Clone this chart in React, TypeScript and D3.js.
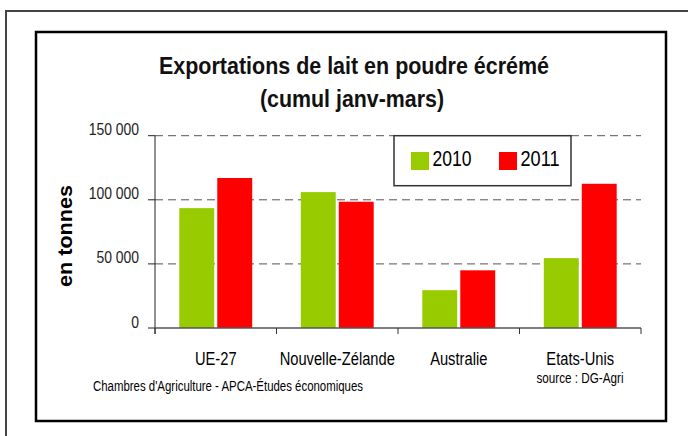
import { useEffect, useRef } from 'react';
import * as d3 from 'd3';

const categories = ['UE-27', 'Nouvelle-Zélande', 'Australie', 'Etats-Unis'];
const years = ['2010', '2011'];
const values2010 = [93500, 106000, 29500, 54500];
const values2011 = [117000, 98500, 45000, 112500];
const yTicks = [0, 50000, 100000, 150000];
const colors = ['#99CC00', '#FF0000'];

const W = 688;
const H = 436;
const FONT = '"Liberation Sans", Arial, Helvetica, sans-serif';

export default function App() {
  const svgRef = useRef<SVGSVGElement>(null);

  useEffect(() => {
    const svg = d3.select(svgRef.current);
    svg.selectAll('*').remove();

    // squeeze text horizontally (the original font is a bit condensed)
    const squeeze = (sel: any, factor: number) => {
      sel.each(function (this: SVGTextElement) {
        const len = this.getComputedTextLength();
        d3.select(this).attr('textLength', len * factor).attr('lengthAdjust', 'spacingAndGlyphs');
      });
    };

    svg.append('rect').attr('width', W).attr('height', H).attr('fill', '#fff');

    // outer frame (runs off the right and bottom edges)
    svg.append('rect')
      .attr('x', 6).attr('y', 11).attr('width', W + 20).attr('height', H + 20)
      .attr('fill', 'none').attr('stroke', '#444').attr('stroke-width', 2);

    // chart area frame
    svg.append('rect')
      .attr('x', 36).attr('y', 32).attr('width', 630).attr('height', 389)
      .attr('fill', '#fff').attr('stroke', '#000').attr('stroke-width', 2.5);

    // title
    const title = svg.append('g')
      .attr('font-family', FONT).attr('font-weight', 'bold').attr('font-size', 23.5)
      .attr('text-anchor', 'middle').attr('fill', '#111');
    title.append('text').attr('x', 354).attr('y', 73.5)
      .attr('textLength', 390).attr('lengthAdjust', 'spacingAndGlyphs')
      .text('Exportations de lait en poudre écrémé');
    title.append('text').attr('x', 352).attr('y', 107)
      .attr('textLength', 184).attr('lengthAdjust', 'spacingAndGlyphs')
      .text('(cumul janv-mars)');

    // scales
    const x0 = d3.scaleBand<string>()
      .domain(categories)
      .range([155, 641])
      .paddingInner(0.4)
      .paddingOuter(0.2);
    const x1 = d3.scaleBand<string>()
      .domain(years)
      .range([0, x0.bandwidth()])
      .paddingInner(0.08);
    const y = d3.scaleLinear().domain([0, 150000]).range([328, 135.7]);

    // gridlines
    svg.append('g')
      .selectAll('line')
      .data(yTicks.filter((d) => d > 0))
      .join('line')
      .attr('x1', 155).attr('x2', 641)
      .attr('y1', (d) => y(d)).attr('y2', (d) => y(d))
      .attr('stroke', '#555').attr('stroke-width', 1)
      .attr('stroke-dasharray', '8,5');

    // bars
    const series = [values2010, values2011];
    const groups = svg.append('g')
      .selectAll('g')
      .data(categories)
      .join('g')
      .attr('transform', (d) => `translate(${x0(d)},0)`);
    groups.selectAll('rect')
      .data((_d, i) => years.map((yr, s) => ({ yr, v: series[s][i], s })))
      .join('rect')
      .attr('x', (d) => x1(d.yr)!)
      .attr('width', x1.bandwidth())
      .attr('y', (d) => y(d.v))
      .attr('height', (d) => y(0) - y(d.v))
      .attr('fill', (d) => colors[d.s]);

    // y axis
    svg.append('line')
      .attr('x1', 155).attr('x2', 155).attr('y1', y(150000)).attr('y2', 334)
      .attr('stroke', '#222').attr('stroke-width', 1);
    svg.append('g')
      .selectAll('line')
      .data(yTicks)
      .join('line')
      .attr('x1', 148).attr('x2', 155)
      .attr('y1', (d) => y(d)).attr('y2', (d) => y(d))
      .attr('stroke', '#222').attr('stroke-width', 1);
    const fmt = (v: number) => d3.format(',')(v).replace(/,/g, ' ');
    const yLabels = svg.append('g')
      .attr('font-family', FONT).attr('font-size', 16).attr('text-anchor', 'end').attr('fill', '#222')
      .selectAll('text')
      .data(yTicks)
      .join('text')
      .attr('x', 139)
      .attr('y', (d) => y(d) - 0.5)
      .text((d) => fmt(d));
    squeeze(yLabels, 0.87);

    // x axis
    svg.append('line')
      .attr('x1', 155).attr('x2', 641).attr('y1', 328).attr('y2', 328)
      .attr('stroke', '#555').attr('stroke-width', 1.5);
    const bounds = categories.map((c) => x0(c)! - (x0.step() - x0.bandwidth()) / 2).concat([641]);
    svg.append('g')
      .selectAll('line')
      .data(bounds)
      .join('line')
      .attr('x1', (d) => d).attr('x2', (d) => d)
      .attr('y1', 328).attr('y2', 334)
      .attr('stroke', '#333').attr('stroke-width', 1);
    const xLabels = svg.append('g')
      .attr('font-family', FONT).attr('font-size', 17.5).attr('text-anchor', 'middle').attr('fill', '#000')
      .selectAll('text')
      .data(categories)
      .join('text')
      .attr('x', (d) => x0(d)! + x0.bandwidth() / 2)
      .attr('y', 365)
      .text((d) => d);
    squeeze(xLabels, 0.84);

    // y axis title
    svg.append('text')
      .attr('transform', 'translate(72,236) rotate(-90)')
      .attr('font-family', FONT).attr('font-weight', 'bold').attr('font-size', 21)
      .attr('text-anchor', 'middle').attr('fill', '#000')
      .attr('textLength', 102).attr('lengthAdjust', 'spacingAndGlyphs')
      .text('en tonnes');

    // legend
    const legend = svg.append('g');
    legend.append('rect')
      .attr('x', 394).attr('y', 135.7).attr('width', 177).attr('height', 50)
      .attr('fill', '#fff').attr('stroke', '#333').attr('stroke-width', 1.5);
    const items = legend.selectAll('g')
      .data(years)
      .join('g')
      .attr('transform', (_d, i) => `translate(${411 + i * 88},152)`);
    items.append('rect')
      .attr('width', 18).attr('height', 18)
      .attr('fill', (_d, i) => colors[i]);
    items.append('text')
      .attr('x', 21.5).attr('y', 13.5)
      .attr('font-family', FONT).attr('font-size', 22.5).attr('fill', '#000')
      .attr('textLength', 39).attr('lengthAdjust', 'spacingAndGlyphs')
      .text((d) => d);

    // source notes
    svg.append('text')
      .attr('x', 580).attr('y', 382.5)
      .attr('font-family', FONT).attr('font-size', 14).attr('text-anchor', 'middle').attr('fill', '#000')
      .attr('textLength', 87).attr('lengthAdjust', 'spacingAndGlyphs')
      .text('source : DG-Agri');
    svg.append('text')
      .attr('x', 93).attr('y', 391)
      .attr('font-family', FONT).attr('font-size', 14).attr('fill', '#000')
      .attr('textLength', 270).attr('lengthAdjust', 'spacingAndGlyphs')
      .text("Chambres d'Agriculture - APCA-Études économiques");
  }, []);

  return (
    <svg
      ref={svgRef}
      width={W}
      height={H}
      viewBox={`0 0 ${W} ${H}`}
      style={{ position: 'absolute', left: 0, top: 0, display: 'block' }}
    />
  );
}
